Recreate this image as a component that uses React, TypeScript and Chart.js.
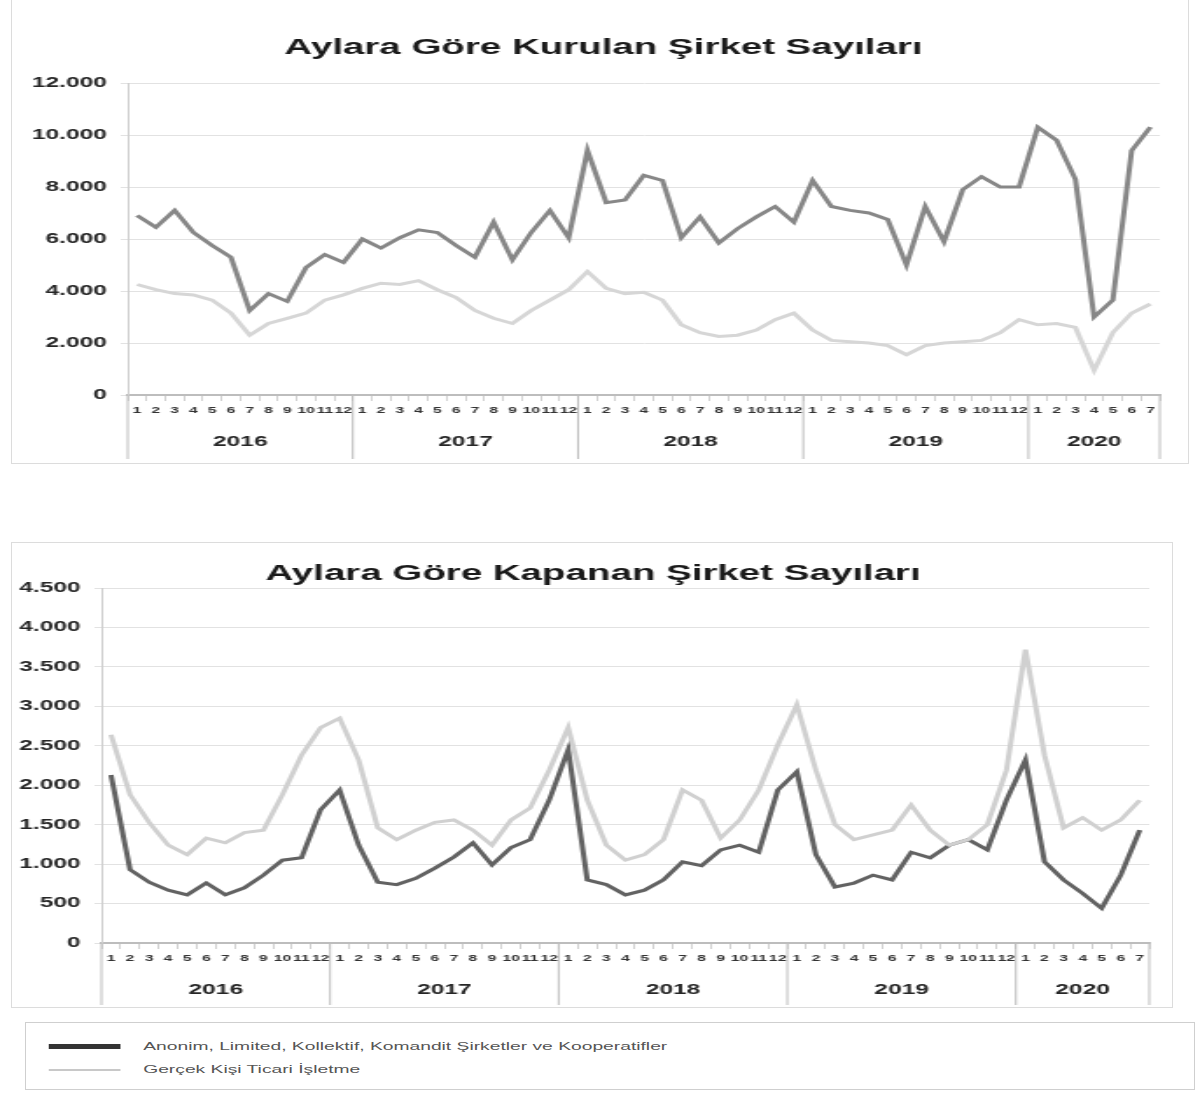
import React, { useEffect, useRef } from "react";
import { Chart, registerables } from "chart.js";

Chart.register(...registerables);
Chart.defaults.font.family = "'Liberation Sans', Arial, sans-serif";

// ---------- data ----------
const YEARS = ["2016", "2017", "2018", "2019", "2020"];
const MONTHS_PER_YEAR = [12, 12, 12, 12, 7];
const MONTH_LABELS = ["1", "2", "3", "4", "5", "6", "7", "8", "9", "10", "11", "12"];

const TITLE_KURULAN = "Aylara Göre Kurulan Şirket Sayıları";
const TITLE_KAPANAN = "Aylara Göre Kapanan Şirket Sayıları";
const LEGEND_SIRKET = "Anonim, Limited, Kollektif, Komandit Şirketler ve Kooperatifler";
const LEGEND_GERCEK = "Gerçek Kişi Ticari İşletme";

const KURULAN_SIRKET = [
  6900, 6450, 7100, 6250, 5750, 5300, 3250, 3900, 3600, 4900, 5400, 5100,
  6000, 5650, 6050, 6350, 6250, 5750, 5300, 6650, 5200, 6250, 7100, 6050,
  9400, 7400, 7500, 8450, 8250, 6050, 6850, 5850, 6400, 6850, 7250, 6650,
  8250, 7250, 7100, 7000, 6750, 5000, 7250, 5900, 7900, 8400, 8000, 8000,
  10300, 9800, 8300, 3000, 3650, 9400, 10300,
];
const KURULAN_GERCEK = [
  4250, 4050, 3900, 3850, 3650, 3150, 2300, 2750, 2950, 3150, 3650, 3850,
  4100, 4300, 4250, 4400, 4050, 3750, 3250, 2950, 2750, 3250, 3650, 4050,
  4750, 4100, 3900, 3950, 3650, 2700, 2400, 2250, 2300, 2500, 2900, 3150,
  2500, 2100, 2050, 2000, 1900, 1550, 1900, 2000, 2050, 2100, 2400, 2900,
  2700, 2750, 2600, 950, 2400, 3150, 3500,
];
const KAPANAN_SIRKET = [
  2130, 930, 770, 670, 610, 760, 610, 700, 860, 1050, 1080, 1690,
  1940, 1240, 770, 740, 820, 950, 1090, 1270, 990, 1210, 1310, 1810,
  2450, 800, 740, 610, 670, 800, 1030, 980, 1180, 1240, 1150, 1940,
  2170, 1120, 710, 760, 860, 800, 1150, 1080, 1240, 1310, 1180, 1810,
  2320, 1030, 800, 630, 440, 860, 1430,
];
const KAPANAN_GERCEK = [
  2640, 1880, 1530, 1240, 1120, 1330, 1270, 1400, 1430, 1880, 2380, 2730,
  2850, 2320, 1460, 1310, 1430, 1530, 1560, 1430, 1240, 1560, 1710, 2190,
  2730, 1810, 1240, 1050, 1120, 1310, 1940, 1810, 1330, 1560, 1940, 2510,
  3020, 2190, 1500, 1310, 1370, 1430, 1750, 1430, 1240, 1310, 1500, 2190,
  3720, 2380, 1460, 1590, 1430, 1560, 1810,
];

const KURULAN_Y = { min: 0, max: 12000, step: 2000 };
const KAPANAN_Y = { min: 0, max: 4500, step: 500 };

// ---------- helpers ----------
const CATEGORIES: string[] = [];
YEARS.forEach((y, k) => {
  for (let m = 0; m < MONTHS_PER_YEAR[k]; m++) CATEGORIES.push(`${y}-${MONTH_LABELS[m]}`);
});
const monthOf = (i: number) => CATEGORIES[i].split("-")[1];
const fmt = (v: number) => (v === 0 ? "0" : String(v).replace(/\B(?=(\d{3})+(?!\d))/g, "."));

const BITMAP_W = 686; // drawn narrow, shown stretched to 1200px like the reference
const PAGE_W = 1200;

const overlayPlugin = {
  id: "overlay",
  afterDraw(chart: any, _args: any, opts: any) {
    const ctx = chart.ctx as CanvasRenderingContext2D;
    const xs = chart.scales.x;
    const b = chart.chartArea.bottom;
    ctx.save();
    // title
    ctx.font = "bold 22px 'Liberation Sans', Arial, sans-serif";
    ctx.textAlign = "center";
    ctx.textBaseline = "middle";
    if (opts.titleBg) {
      const w = ctx.measureText(opts.title).width;
      ctx.fillStyle = "#ffffff";
      ctx.fillRect(opts.titleX - w / 2 - 4, opts.titleY - 14, w + 8, 28);
    }
    ctx.fillStyle = "#1a1a1a";
    ctx.fillText(opts.title, opts.titleX, opts.titleY);

    // year row and separators
    const step = xs.getPixelForValue(1) - xs.getPixelForValue(0);
    ctx.strokeStyle = "#bdbdbd";
    ctx.lineWidth = 1;
    const sep = (px: number) => {
      ctx.beginPath();
      ctx.moveTo(px, b);
      ctx.lineTo(px, b + opts.sepLen);
      ctx.stroke();
    };
    let start = 0;
    sep(xs.getPixelForValue(0) - step / 2);
    ctx.font = "bold 14px 'Liberation Sans', Arial, sans-serif";
    ctx.fillStyle = "#262626";
    YEARS.forEach((yr, k) => {
      const n = MONTHS_PER_YEAR[k];
      const l = xs.getPixelForValue(start) - step / 2;
      const r = xs.getPixelForValue(start + n - 1) + step / 2;
      ctx.fillText(yr, (l + r) / 2, b + 47);
      sep(r);
      start += n;
    });
    ctx.restore();
  },
};

function makeConfig(p: {
  title: string;
  titleX: number;
  titleY: number;
  titleBg: boolean;
  sirket: number[];
  gercek: number[];
  sirketColor: string;
  gercekColor: string;
  yr: { min: number; max: number; step: number };
  padTop: number;
  padRight: number;
  yWidth: number;
  xHeight: number;
  sepLen: number;
}): any {
  return {
    type: "line",
    data: {
      labels: CATEGORIES,
      datasets: [
        {
          label: LEGEND_GERCEK,
          data: p.gercek,
          borderColor: p.gercekColor,
          borderWidth: 3,
          pointRadius: 0,
          tension: 0,
        },
        {
          label: LEGEND_SIRKET,
          data: p.sirket,
          borderColor: p.sirketColor,
          borderWidth: 3,
          pointRadius: 0,
          tension: 0,
        },
      ],
    },
    options: {
      responsive: false,
      animation: false,
      devicePixelRatio: 1,
      layout: { padding: { top: p.padTop, right: p.padRight, left: 0, bottom: 0 } },
      plugins: {
        legend: { display: false },
        title: { display: false },
        tooltip: { enabled: false },
        overlay: { title: p.title, titleX: p.titleX, titleY: p.titleY, titleBg: p.titleBg, sepLen: p.sepLen },
      },
      scales: {
        x: {
          type: "category",
          offset: true,
          afterFit: (s: any) => {
            s.height = p.xHeight;
          },
          grid: {
            display: true,
            drawOnChartArea: false,
            drawTicks: true,
            tickLength: 6,
            offset: true,
            color: "#d0d0d0",
          },
          border: { display: true, color: "#bdbdbd", width: 2 },
          ticks: {
            autoSkip: false,
            maxRotation: 0,
            minRotation: 0,
            padding: 4,
            color: "#333333",
            font: { size: 9, weight: "bold" },
            callback: (_v: any, i: number) => monthOf(i),
          },
        },
        y: {
          min: p.yr.min,
          max: p.yr.max,
          afterFit: (s: any) => {
            s.width = p.yWidth;
          },
          grid: { color: "#e2e2e2", drawTicks: true, tickLength: 4 },
          border: { display: true, color: "#cfcfcf" },
          ticks: {
            stepSize: p.yr.step,
            padding: 8,
            color: "#262626",
            font: { size: 14, weight: "bold" },
            callback: (v: any) => fmt(Number(v)),
          },
        },
      },
    },
    plugins: [overlayPlugin],
  };
}

function StretchedChart({ top, height, config }: { top: number; height: number; config: () => any }) {
  const ref = useRef<HTMLCanvasElement>(null);
  useEffect(() => {
    const chart = new Chart(ref.current as HTMLCanvasElement, config());
    return () => chart.destroy();
  }, []);
  return (
    <canvas
      ref={ref}
      width={BITMAP_W}
      height={height}
      style={{ position: "absolute", left: 0, top, width: `${PAGE_W}px`, height: `${height}px` }}
    />
  );
}

const SX = PAGE_W / BITMAP_W;

export default function App() {
  return (
    <div style={{ position: "absolute", left: 0, top: 0, width: 1200, height: 1108, background: "#fff", overflow: "hidden" }}>
      {/* frames */}
      <div style={{ position: "absolute", left: 11, top: -2, width: 1176, height: 464, border: "1px solid #dcdcdc" }} />
      <div style={{ position: "absolute", left: 11, top: 542, width: 1160, height: 464, border: "1px solid #dcdcdc" }} />

      <StretchedChart
        top={0}
        height={470}
        config={() =>
          makeConfig({
            title: TITLE_KURULAN,
            titleX: 345,
            titleY: 48,
            titleBg: false,
            sirket: KURULAN_SIRKET,
            gercek: KURULAN_GERCEK,
            sirketColor: "#878787",
            gercekColor: "#d6d6d6",
            yr: KURULAN_Y,
            padTop: 83,
            padRight: 23,
            yWidth: 73,
            xHeight: 75,
            sepLen: 64,
          })
        }
      />
      <StretchedChart
        top={530}
        height={490}
        config={() =>
          makeConfig({
            title: TITLE_KAPANAN,
            titleX: 339,
            titleY: 44,
            titleBg: true,
            sirket: KAPANAN_SIRKET,
            gercek: KAPANAN_GERCEK,
            sirketColor: "#626262",
            gercekColor: "#d0d0d0",
            yr: KAPANAN_Y,
            padTop: 58,
            padRight: 29,
            yWidth: 58,
            xHeight: 77,
            sepLen: 62,
          })
        }
      />

      {/* legend */}
      <div style={{ position: "absolute", left: 25, top: 1022, width: 1168, height: 66, border: "1px solid #cfcfcf" }}>
        <div
          style={{
            position: "absolute",
            left: 0,
            top: 0,
            width: 1168 / SX,
            height: 66,
            transform: `scaleX(${SX})`,
            transformOrigin: "left top",
            fontFamily: "'Liberation Sans', Arial, sans-serif",
            fontSize: 11,
            color: "#555",
          }}
        >
          <div style={{ position: "absolute", left: 13, top: 21, width: 41, height: 5, background: "#333" }} />
          <div style={{ position: "absolute", left: 67, top: 17, whiteSpace: "nowrap", lineHeight: "13px" }}>{LEGEND_SIRKET}</div>
          <div style={{ position: "absolute", left: 13, top: 46, width: 41, height: 2, background: "#c8c8c8" }} />
          <div style={{ position: "absolute", left: 67, top: 40, whiteSpace: "nowrap", lineHeight: "13px" }}>{LEGEND_GERCEK}</div>
        </div>
      </div>
    </div>
  );
}
